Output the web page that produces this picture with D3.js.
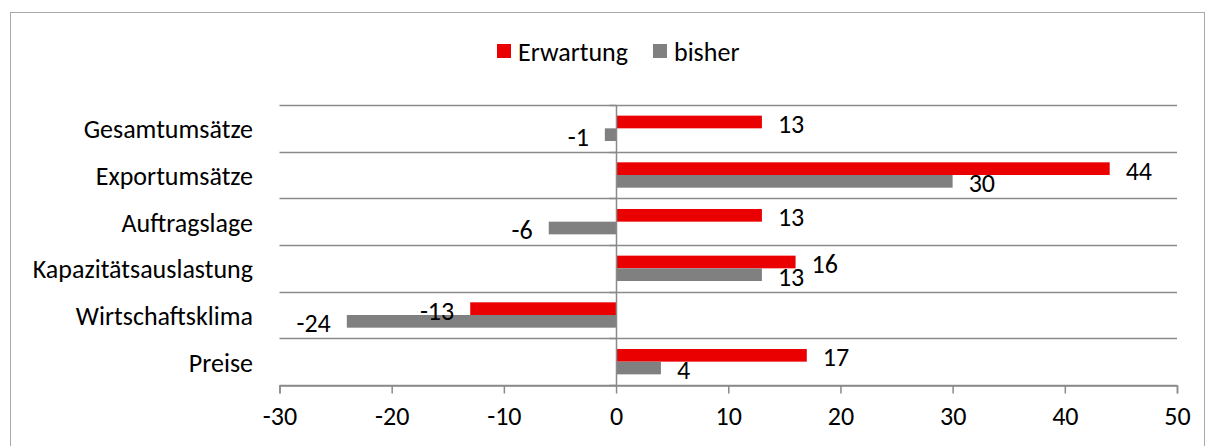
<!DOCTYPE html>
<html>
<head>
<meta charset="utf-8">
<script src="https://cdn.jsdelivr.net/npm/d3@7"></script>
<style>
  body { margin: 0; background: #fff; }
  svg { display: block; font-family: Carlito, Lato, sans-serif; }
</style>
</head>
<body>
<div id="chart"></div>
<script>
// data
const categories = ['Gesamtumsätze', 'Exportumsätze', 'Auftragslage', 'Kapazitätsauslastung', 'Wirtschaftsklima', 'Preise'];
const series = ['Erwartung', 'bisher'];
const erwartung = [13, 44, 13, 16, -13, 17];
const bisher = [-1, 30, -6, 13, -24, 4];
const xTicks = [-30, -20, -10, 0, 10, 20, 30, 40, 50];

const WIDTH = 1215;
const HEIGHT = 446;
const colors = { Erwartung: '#ea0000', bisher: '#808080' };
const gridColor = '#8a8a8a';
const fontSize = 26;

const rows = categories.map((c, i) => ({ name: c, Erwartung: erwartung[i], bisher: bisher[i] }));

const svg = d3.select('#chart')
  .append('svg')
  .attr('width', WIDTH)
  .attr('height', HEIGHT);

// dotted chart border
svg.append('rect')
  .attr('x', 10.5).attr('y', 12.5)
  .attr('width', 1194).attr('height', 450)
  .attr('fill', 'none')
  .attr('stroke', '#555')
  .attr('stroke-dasharray', '1,1');

// scales
const scaleX = d3.scaleLinear().domain([-30, 50]).range([279.5, 1177]);
const scaleY = d3.scaleBand().domain(categories).range([105, 385]);
const scaleInner = d3.scaleBand().domain(series).range([0, scaleY.bandwidth()]).paddingOuter(0.84);

// horizontal grid lines at category boundaries
const bounds = categories.map((c) => scaleY(c)).concat([scaleY.range()[1]]);
svg.append('g')
  .selectAll('line')
  .data(bounds)
  .join('line')
  .attr('x1', scaleX.range()[0]).attr('x2', scaleX.range()[1])
  .attr('y1', (d) => Math.round(d) + 0.5).attr('y2', (d) => Math.round(d) + 0.5)
  .attr('stroke', gridColor)
  .attr('stroke-width', 1.5);

// bars
const groups = svg.append('g')
  .selectAll('g')
  .data(rows)
  .join('g')
  .attr('transform', (d) => `translate(0,${scaleY(d.name)})`);

groups.selectAll('rect')
  .data((d) => series.map((s) => ({ key: s, value: d[s] })))
  .join('rect')
  .attr('x', (d) => scaleX(Math.min(0, d.value)))
  .attr('y', (d) => scaleInner(d.key))
  .attr('width', (d) => Math.abs(scaleX(d.value) - scaleX(0)))
  .attr('height', scaleInner.bandwidth())
  .attr('fill', (d) => colors[d.key]);

// value labels
groups.selectAll('text')
  .data((d) => series.map((s) => ({ key: s, value: d[s] })))
  .join('text')
  .attr('x', (d) => scaleX(d.value) + (d.value < 0 ? -16 : 16))
  .attr('y', (d) => scaleInner(d.key) + scaleInner.bandwidth() / 2 + 2)
  .attr('dy', '0.35em')
  .attr('text-anchor', (d) => (d.value < 0 ? 'end' : 'start'))
  .attr('font-size', fontSize)
  .attr('fill', '#000')
  .text((d) => d.value);

// vertical zero axis with small ticks
const zeroX = Math.round(scaleX(0)) + 0.5;
svg.append('line')
  .attr('x1', zeroX).attr('x2', zeroX)
  .attr('y1', scaleY.range()[0]).attr('y2', scaleY.range()[1])
  .attr('stroke', gridColor)
  .attr('stroke-width', 1.5);
svg.append('g')
  .selectAll('line')
  .data(bounds)
  .join('line')
  .attr('x1', zeroX - 7).attr('x2', zeroX)
  .attr('y1', (d) => Math.round(d) + 0.5).attr('y2', (d) => Math.round(d) + 0.5)
  .attr('stroke', gridColor)
  .attr('stroke-width', 1.5);

// category labels
svg.append('g')
  .selectAll('text')
  .data(categories)
  .join('text')
  .attr('x', 253)
  .attr('y', (d) => scaleY(d) + scaleY.bandwidth() / 2 + 1)
  .attr('dy', '0.35em')
  .attr('text-anchor', 'end')
  .attr('font-size', fontSize)
  .attr('fill', '#000')
  .text((d) => d);

// x axis
const axisX = d3.axisBottom(scaleX)
  .tickValues(xTicks)
  .tickFormat((d) => String(d))
  .tickSize(8)
  .tickPadding(13);
const gx = svg.append('g')
  .attr('transform', `translate(0,${Math.round(scaleY.range()[1]) + 0.5})`)
  .call(axisX);
gx.select('.domain').attr('stroke', gridColor).attr('stroke-width', 1.5);
gx.selectAll('.tick line').attr('stroke', gridColor).attr('stroke-width', 1.5);
gx.selectAll('.tick text')
  .attr('font-size', fontSize)
  .attr('font-family', 'Carlito, Lato, sans-serif')
  .attr('fill', '#000');

// legend
const legend = svg.append('g').attr('transform', 'translate(497,51)');
let lx = 0;
series.forEach((s) => {
  const item = legend.append('g').attr('transform', `translate(${lx},0)`);
  item.append('rect')
    .attr('x', 0).attr('y', -7)
    .attr('width', 14).attr('height', 14)
    .attr('fill', colors[s]);
  const t = item.append('text')
    .attr('x', 21).attr('y', 1)
    .attr('dy', '0.35em')
    .attr('font-size', fontSize)
    .attr('fill', '#000')
    .text(s);
  lx += 21 + t.node().getComputedTextLength() + 25;
});
</script>
</body>
</html>
